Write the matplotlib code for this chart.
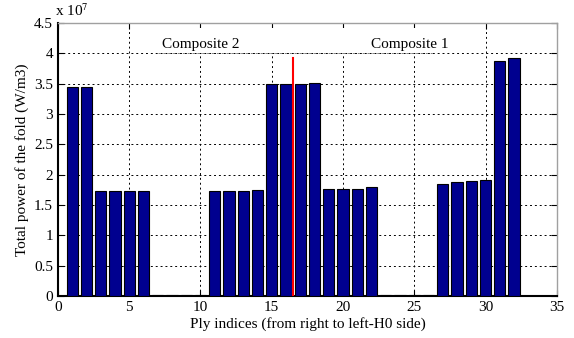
import matplotlib
matplotlib.use("Agg")
import matplotlib.pyplot as plt
from matplotlib.patches import Rectangle
import numpy as np

plies = list(range(1, 33))
power = [3.45, 3.45, 1.73, 1.73, 1.73, 1.73, 0.01, 0.01, 0.01, 0.01,
         1.73, 1.73, 1.73, 1.75, 3.49, 3.49, 3.50, 3.51, 1.76, 1.76,
         1.77, 1.79, 0.01, 0.01, 0.01, 0.01, 1.85, 1.88, 1.89, 1.92,
         3.88, 3.93]  # x 1e7 W/m3
interface_x = 16.5
interface_top = 3.92
xticks = [0, 5, 10, 15, 20, 25, 30, 35]
yticks = [0, 0.5, 1, 1.5, 2, 2.5, 3, 3.5, 4, 4.5]
labels = [("Composite 2", 10.0, 4.15), ("Composite 1", 24.7, 4.15)]
label_band = (7.0, 26.3, 4.0, 4.42)

plt.rcParams['font.family'] = ['Liberation Serif', 'DejaVu Serif']
plt.rcParams['mathtext.fontset'] = 'stix'

fig = plt.figure(figsize=(5.74, 3.38), dpi=100)
ax = fig.add_axes([0.101, 0.124, 0.869, 0.808])
ax.set_axisbelow('line')

ax.bar(plies, power, width=0.8, color='#00008f', edgecolor='black', linewidth=0.8, zorder=3)
ax.plot([interface_x, interface_x], [0, interface_top], color='red', linewidth=1.5, zorder=4)

ax.set_xlim(0, 35)
ax.set_ylim(0, 4.5)
ax.set_xticks(xticks)
ax.set_yticks(yticks)
ax.set_yticklabels([('%g' % v) for v in yticks])
ax.grid(True, linestyle=(0, (2, 3)), color='black', linewidth=0.7)
ax.tick_params(direction='in', labelsize=11, length=4, top=True, right=True)
for s in ['top', 'right']:
    ax.spines[s].set_color('#a0a0a0')
    ax.spines[s].set_linewidth(1.0)
for s in ['left', 'bottom']:
    ax.spines[s].set_linewidth(1.5)

x0, x1, y0, y1 = label_band
ax.add_patch(Rectangle((x0, y0), x1 - x0, y1 - y0, facecolor='white', edgecolor='none', zorder=1.8))
ax.plot([x0, x1], [y0, y0], linestyle=(0, (2, 3)), color='#808080', linewidth=0.7, zorder=1.9)

for t, x, y in labels:
    ax.text(x, y, t, ha='center', va='center', fontsize=11, zorder=5)

ax.set_xlabel("Ply indices (from right to left-H0 side)", fontsize=11, labelpad=2)
ax.set_ylabel("Total power of the fold (W/m3)", fontsize=11, labelpad=4)
fig.text(0.101 - 0.005, 0.945, r"x 10$^{7}$", fontsize=11, ha='left', va='bottom')

fig.savefig("out.png", dpi=100)
